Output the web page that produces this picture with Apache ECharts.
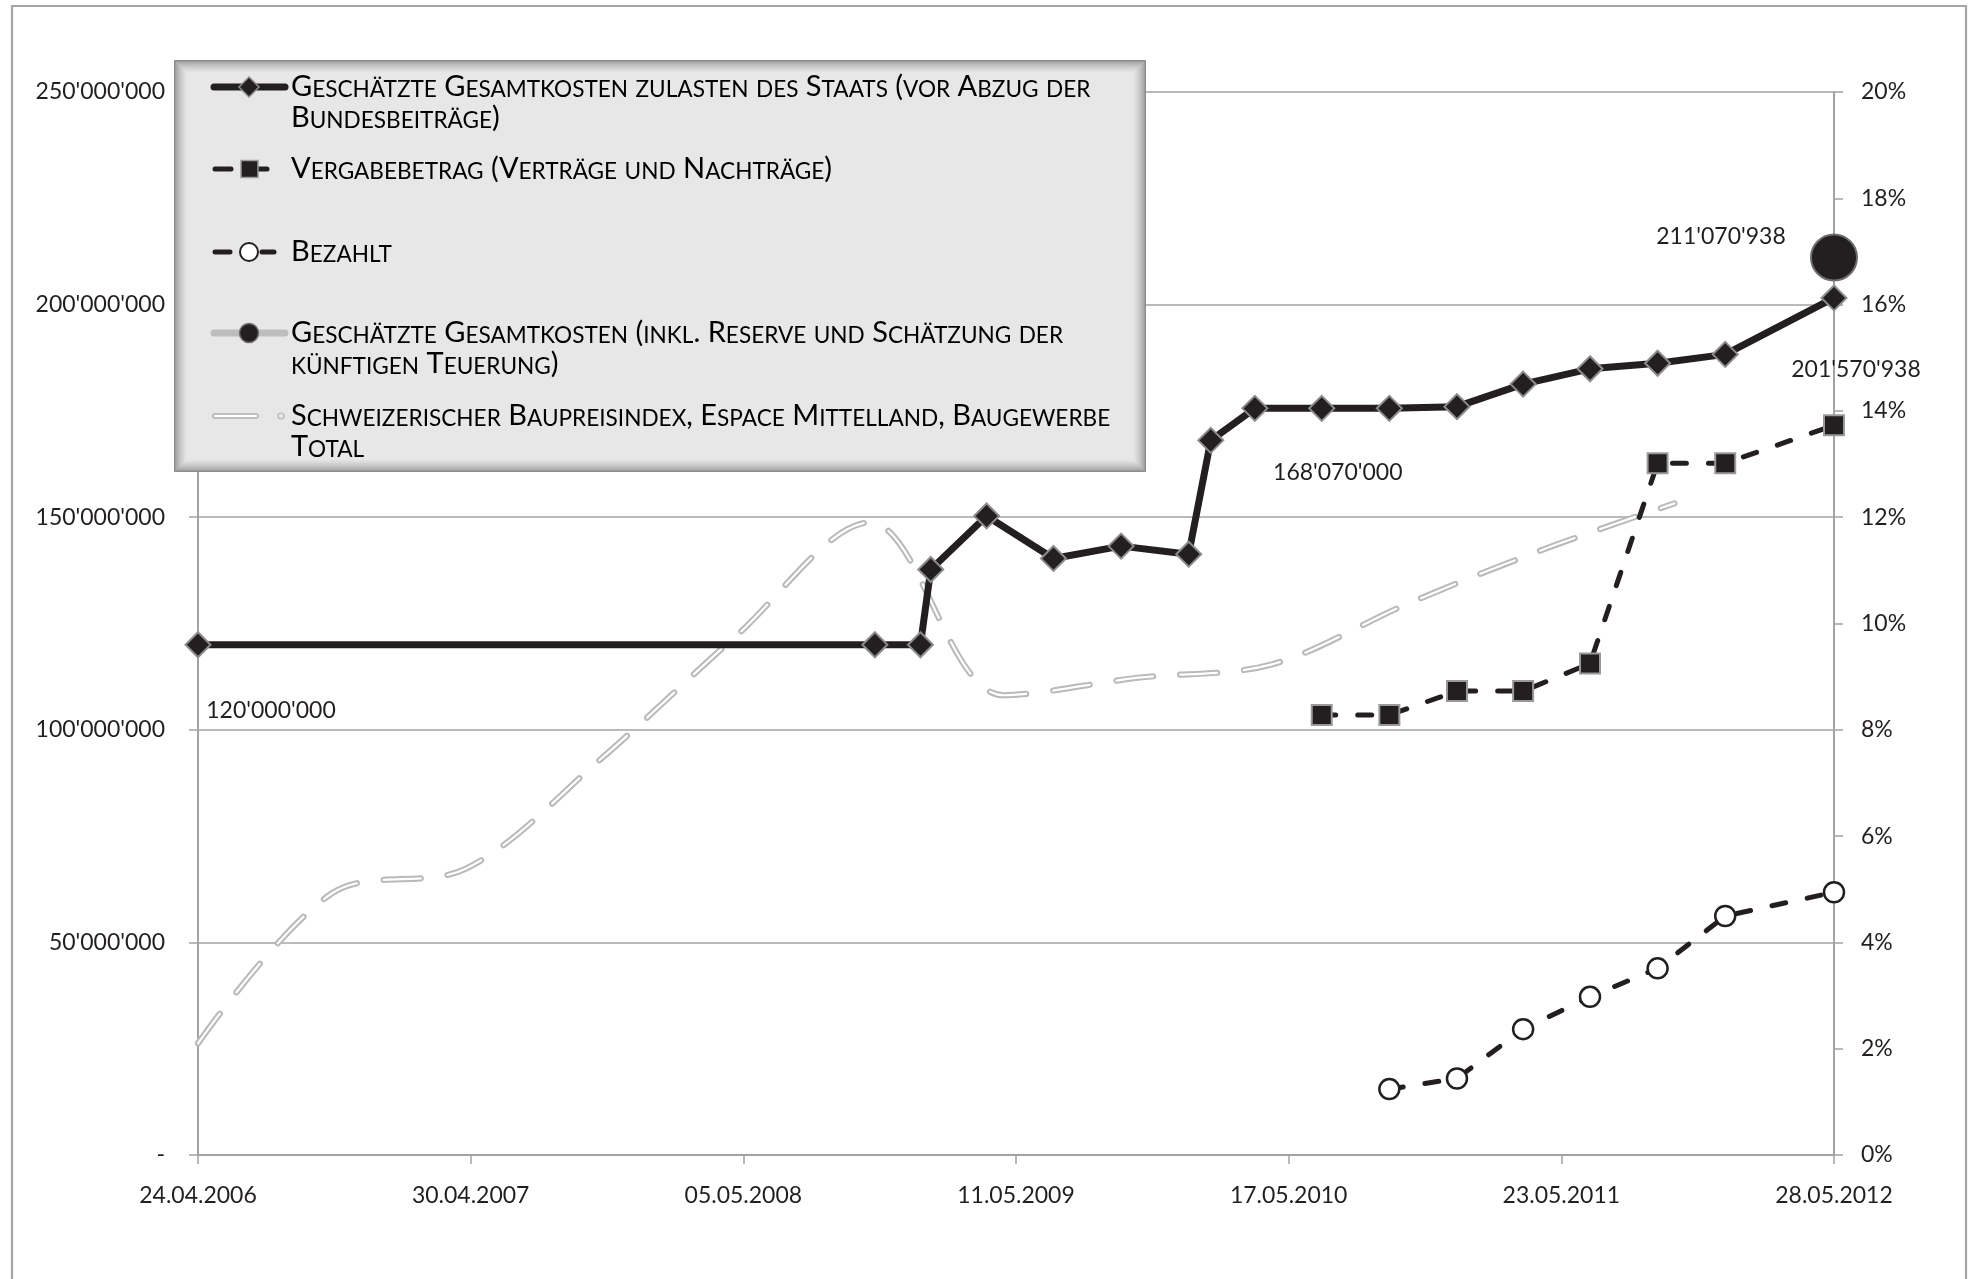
<!DOCTYPE html>
<html>
<head>
<meta charset="utf-8">
<script src="https://cdn.jsdelivr.net/npm/echarts@6/dist/echarts.min.js"></script>
<style>
  html, body { margin: 0; padding: 0; background: #ffffff; }
  #chart { width: 1973px; height: 1279px; }
</style>
</head>
<body>
<div id="chart"></div>
<script>
// Zeitachse (Stichtage)
const axisStart = '2006-04-24';
const axisEnd = '2012-05-28';
const axisStepDays = 371;

// Geschätzte Gesamtkosten zulasten des Staats (CHF)
const kostenStaatDaten = ['2006-04-24', '2008-10-31', '2009-01-01', '2009-01-15', '2009-04-01', '2009-07-01',
  '2009-10-01', '2010-01-01', '2010-01-31', '2010-04-01', '2010-07-01', '2010-10-01', '2011-01-01',
  '2011-04-01', '2011-07-01', '2011-10-01', '2012-01-01', '2012-05-28'];
const kostenStaatWerte = [120000000, 120000000, 120000000, 137700000, 150300000, 140300000,
  143200000, 141300000, 168070000, 175600000, 175600000, 175600000, 176000000,
  181300000, 184900000, 186200000, 188300000, 201570938];

// Vergabebetrag (Verträge und Nachträge)
const vergabeDaten = ['2010-07-01', '2010-10-01', '2011-01-01', '2011-04-01', '2011-07-01', '2011-10-01', '2012-01-01', '2012-05-28'];
const vergabeWerte = [103500000, 103500000, 109100000, 109100000, 115600000, 162700000, 162700000, 171600000];

// Bezahlt
const bezahltDaten = ['2010-10-01', '2011-01-01', '2011-04-01', '2011-07-01', '2011-10-01', '2012-01-01', '2012-05-28'];
const bezahltWerte = [15500000, 18000000, 29600000, 37200000, 43900000, 56200000, 61800000];

// Geschätzte Gesamtkosten inkl. Reserve und Teuerung
const gesamtDaten = ['2012-05-28'];
const gesamtWerte = [211070938];

// Baupreisindex Espace Mittelland, Veränderung in %
const indexDaten = ['2006-04-24', '2006-10-24', '2007-04-24', '2007-10-24', '2008-04-24', '2008-10-24',
  '2009-04-24', '2009-10-24', '2010-04-24', '2010-10-24', '2011-04-24', '2011-10-24'];
const indexWerte = [2.1, 4.93, 5.39, 7.45, 9.75, 11.9, 8.65, 8.98, 9.23, 10.36, 11.37, 12.26];

// Achsenbeschriftung
const leftAxisMax = 250000000;
const leftAxisStep = 50000000;
const rightAxisMax = 20;
const rightAxisStep = 2;

const legendTexte = [
  ['Geschätzte Gesamtkosten zulasten des Staats (vor Abzug der', 'Bundesbeiträge)'],
  ['Vergabebetrag (Verträge und Nachträge)'],
  ['Bezahlt'],
  ['Geschätzte Gesamtkosten (inkl. Reserve und Schätzung der', 'künftigen Teuerung)'],
  ['Schweizerischer Baupreisindex, Espace Mittelland, Baugewerbe', 'Total']
];

const DAY = 86400000;
function toUTC(s) { const p = s.split('-').map(Number); return Date.UTC(p[0], p[1] - 1, p[2]); }
const baseTime = toUTC(axisStart);
const dayOf = s => Math.round((toUTC(s) - baseTime) / DAY);
const spanDays = dayOf(axisEnd);

function fmtDate(days) {
  const d = new Date(baseTime + days * DAY);
  const pad = n => (n < 10 ? '0' : '') + n;
  return pad(d.getUTCDate()) + '.' + pad(d.getUTCMonth() + 1) + '.' + d.getUTCFullYear();
}
function fmtNum(v) {
  return Math.round(v).toString().replace(/\B(?=(\d{3})+(?!\d))/g, "'");
}
const pairs = (dates, vals) => dates.map((d, i) => [dayOf(d), vals[i]]);

const INK = '#231f20';
const FONT = 'Lato';
const GRAY = '#a3a3a3';

// value labels on selected points: index -> offset from point centre
const kostenLabelOffsets = { 0: [73, 66], 8: [127, 32], 17: [22, 72] };
function labelled(points, offsets) {
  return points.map((p, i) => {
    if (!offsets[i]) return p;
    return {
      value: p,
      label: {
        show: true, position: 'inside', align: 'center', verticalAlign: 'middle',
        offset: offsets[i], color: INK, fontSize: 23, fontFamily: FONT,
        formatter: q => fmtNum(q.value[1])
      }
    };
  });
}

// small caps: lower-case letters become smaller capitals
function smallCaps(str) {
  let out = '', cur = null, buf = '';
  for (const ch of str) {
    const lower = ch !== ch.toUpperCase();
    const t = lower ? 's' : 'u';
    if (t !== cur && buf) { out += '{' + cur + '|' + buf + '}'; buf = ''; }
    cur = t;
    buf += lower ? ch.toUpperCase() : ch;
  }
  if (buf) out += '{' + cur + '|' + buf + '}';
  return out;
}
const capSize = 29, smallSize = 22.6;
const legendRich = {
  u: { fontSize: capSize, fontFamily: FONT, color: INK, lineHeight: capSize * 0.774, verticalAlign: 'bottom' },
  s: { fontSize: smallSize, fontFamily: FONT, color: INK, lineHeight: smallSize * 0.774, verticalAlign: 'bottom' }
};

// legend panel
const box = { x: 174, y: 60, w: 972, h: 412 };
const legendEls = [];
const layers = 11;
for (let i = 0; i < layers; i++) {
  const t = i / (layers - 1);
  const c = Math.round(140 + (231 - 140) * Math.pow(t, 0.6));
  const inset = i * 1.2;
  legendEls.push({
    type: 'rect', z: 100 + i * 0.01,
    shape: { x: box.x + inset, y: box.y + inset, width: box.w - 2 * inset, height: box.h - 2 * inset },
    style: { fill: 'rgb(' + c + ',' + c + ',' + c + ')' }
  });
}
const rowY = [87, 169, 252, 333, 416];
const textShift = 2.5;
const lineGap = 31;
const textX = 291;
legendTexte.forEach((lines, k) => {
  lines.forEach((ln, j) => {
    legendEls.push({
      type: 'text', z: 102,
      style: { x: textX, y: rowY[k] + textShift + j * lineGap, text: smallCaps(ln), rich: legendRich, verticalAlign: 'middle', align: 'left' }
    });
  });
});
// legend keys
const ky = rowY;
legendEls.push(
  { type: 'line', z: 101, shape: { x1: 214, y1: ky[0], x2: 285, y2: ky[0] }, style: { stroke: INK, lineWidth: 7, lineCap: 'round' } },
  { type: 'polygon', z: 101.5, shape: { points: [[249, ky[0] - 10], [259, ky[0]], [249, ky[0] + 10], [239, ky[0]]] }, style: { fill: INK, stroke: '#8c8c8c', lineWidth: 1.5 } },

  { type: 'line', z: 101, shape: { x1: 215, y1: ky[1], x2: 231, y2: ky[1] }, style: { stroke: INK, lineWidth: 5, lineCap: 'round' } },
  { type: 'line', z: 101, shape: { x1: 258, y1: ky[1], x2: 267, y2: ky[1] }, style: { stroke: INK, lineWidth: 5, lineCap: 'round' } },
  { type: 'rect', z: 101.5, shape: { x: 241, y: ky[1] - 8.5, width: 17, height: 17 }, style: { fill: INK, stroke: '#9a9a9a', lineWidth: 1.5 } },

  { type: 'line', z: 101, shape: { x1: 215, y1: ky[2], x2: 230, y2: ky[2] }, style: { stroke: INK, lineWidth: 5, lineCap: 'round' } },
  { type: 'line', z: 101, shape: { x1: 262, y1: ky[2], x2: 274, y2: ky[2] }, style: { stroke: INK, lineWidth: 5, lineCap: 'round' } },
  { type: 'circle', z: 101.5, shape: { cx: 249, cy: ky[2], r: 9 }, style: { fill: '#ffffff', stroke: INK, lineWidth: 2 } },

  { type: 'line', z: 101, shape: { x1: 214, y1: ky[3], x2: 285, y2: ky[3] }, style: { stroke: '#bdbdbd', lineWidth: 7, lineCap: 'round' } },
  { type: 'circle', z: 101.5, shape: { cx: 249, cy: ky[3], r: 9.5 }, style: { fill: INK, stroke: '#6e6e6e', lineWidth: 1.5 } },

  { type: 'line', z: 101, shape: { x1: 215, y1: ky[4], x2: 256, y2: ky[4] }, style: { stroke: '#bdbdbd', lineWidth: 6, lineCap: 'round' } },
  { type: 'line', z: 101.2, shape: { x1: 215, y1: ky[4], x2: 256, y2: ky[4] }, style: { stroke: '#ffffff', lineWidth: 2, lineCap: 'round' } },
  { type: 'circle', z: 101.5, shape: { cx: 281, cy: ky[4], r: 3 }, style: { fill: '#e6e6e6', stroke: '#b5b5b5', lineWidth: 1.2 } }
);

const indexDash = [37, 27];
const chart = echarts.init(document.getElementById('chart'), null, { renderer: 'canvas' });
chart.setOption({
  animation: false,
  backgroundColor: '#ffffff',
  textStyle: { fontFamily: FONT, color: INK },
  grid: { left: 198, top: 92, width: 1636, height: 1063, containLabel: false, outerBoundsMode: 'none' },
  xAxis: {
    type: 'value', min: 0, max: spanDays, interval: axisStepDays,
    axisLine: { show: true, onZero: false, lineStyle: { color: GRAY, width: 2 } },
    axisTick: { show: true, length: 9, lineStyle: { color: GRAY, width: 1.5 } },
    axisLabel: { margin: 29, fontSize: 23, fontFamily: FONT, color: INK, showMinLabel: true, showMaxLabel: true, formatter: v => fmtDate(v) },
    splitLine: { show: false }
  },
  yAxis: [
    {
      type: 'value', min: 0, max: leftAxisMax, interval: leftAxisStep, position: 'left',
      axisLine: { show: true, lineStyle: { color: GRAY, width: 2 } },
      axisTick: { show: true, length: 9, lineStyle: { color: GRAY, width: 1.5 } },
      axisLabel: { margin: 33, fontSize: 23, fontFamily: FONT, color: INK, formatter: v => (v === 0 ? '-' : fmtNum(v)) },
      splitLine: { show: true, lineStyle: { color: GRAY, width: 1.6 } }
    },
    {
      type: 'value', min: 0, max: rightAxisMax, interval: rightAxisStep, position: 'right',
      axisLine: { show: true, lineStyle: { color: GRAY, width: 2 } },
      axisTick: { show: true, length: 9, lineStyle: { color: GRAY, width: 1.5 } },
      axisLabel: { margin: 27, fontSize: 23, fontFamily: FONT, color: INK, formatter: v => v + '%' },
      splitLine: { show: false }
    }
  ],
  graphic: {
    elements: [
      { type: 'rect', z: -10, shape: { x: 12, y: 6, width: 1954, height: 1320 }, style: { fill: 'none', stroke: '#a6a6a6', lineWidth: 2.2 } }
    ].concat(legendEls)
  },
  series: [
    {
      name: 'Baupreisindex', type: 'line', yAxisIndex: 1, z: 1, silent: true,
      data: pairs(indexDaten, indexWerte), smooth: 0.33, symbol: 'none',
      lineStyle: { color: '#b9b9b9', width: 6.2, type: indexDash, cap: 'round' }
    },
    {
      name: 'Baupreisindex innen', type: 'line', yAxisIndex: 1, z: 1.5, silent: true,
      data: pairs(indexDaten, indexWerte), smooth: 0.33, symbol: 'none',
      lineStyle: { color: '#ffffff', width: 2.2, type: indexDash, cap: 'round' }
    },
    {
      name: 'Vergabebetrag', type: 'line', z: 3, silent: true,
      data: pairs(vergabeDaten, vergabeWerte),
      symbol: 'rect', symbolSize: 20,
      lineStyle: { color: INK, width: 5, type: [14, 22], cap: 'round' },
      itemStyle: { color: INK, borderColor: '#9a9a9a', borderWidth: 2 }
    },
    {
      name: 'Bezahlt', type: 'line', z: 3, silent: true,
      data: pairs(bezahltDaten, bezahltWerte),
      symbol: 'circle', symbolSize: 20,
      lineStyle: { color: INK, width: 5, type: [14, 22], cap: 'round' },
      itemStyle: { color: '#ffffff', borderColor: INK, borderWidth: 2.5 }
    },
    {
      name: 'Gesamtkosten Staat', type: 'line', z: 4, silent: true,
      data: labelled(pairs(kostenStaatDaten, kostenStaatWerte), kostenLabelOffsets),
      symbol: 'diamond', symbolSize: 25,
      lineStyle: { color: INK, width: 7, cap: 'round', join: 'round' },
      itemStyle: { color: INK, borderColor: '#8c8c8c', borderWidth: 2 }
    },
    {
      name: 'Gesamtkosten inkl. Reserve', type: 'line', z: 4, silent: true,
      data: labelled(pairs(gesamtDaten, gesamtWerte), { 0: [-113, -21] }),
      symbol: 'circle', symbolSize: 46,
      lineStyle: { color: '#bdbdbd', width: 7 },
      itemStyle: { color: INK, borderColor: '#6e6e6e', borderWidth: 2 }
    }
  ]
});
</script>
</body>
</html>
